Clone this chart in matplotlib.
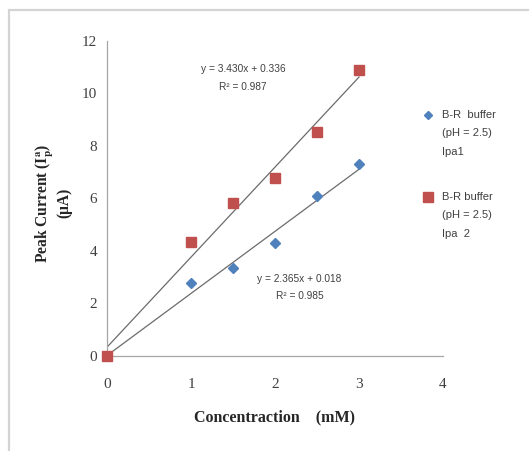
import numpy as np
import matplotlib
matplotlib.use("Agg")
import matplotlib.pyplot as plt
from matplotlib.lines import Line2D
from matplotlib.patches import Rectangle

plt.rcParams["mathtext.fontset"] = "stix"

# Concentration (mM) and peak anodic currents (uA)
conc = [0, 1, 1.5, 2, 2.5, 3]
ipa1 = [0, 2.80, 3.37, 4.31, 6.11, 7.30]
ipa2 = [0, 4.34, 5.83, 6.78, 8.54, 10.89]

# Linear fits reported for each series
fit1 = (2.365, 0.018, 0.985)
fit2 = (3.430, 0.336, 0.987)

label1 = "B-R  buffer\n(pH = 2.5)\nIpa1"
label2 = "B-R buffer\n(pH = 2.5)\nIpa  2"

blue = "#4F81BD"
red = "#C0504D"
text_gray = "#404040"

W, H = 529, 451
fig = plt.figure(figsize=(W / 100, H / 100), dpi=100)
fig.patch.set_facecolor("white")


def fx(px):
    return px / W


def fy(py):
    return (H - py) / H


# light outer frame of the chart area
fig.add_artist(Rectangle((fx(9), -0.05), 1.1, fy(10) + 0.05,
                         transform=fig.transFigure, fill=False,
                         edgecolor="#d4d4d4", linewidth=1.6))

ax = fig.add_axes([fx(107), fy(356), fx(443) - fx(107), fy(41) - fy(356)])
ax.set_xlim(0, 4)
ax.set_ylim(0, 12)
ax.set_xticks([0, 1, 2, 3, 4])
ax.set_yticks([0, 2, 4, 6, 8, 10, 12])
for s in ["top", "right"]:
    ax.spines[s].set_visible(False)
for s in ["left", "bottom"]:
    ax.spines[s].set_color("#a6a6a6")
    ax.spines[s].set_linewidth(0.9)
ax.tick_params(length=0, labelsize=11, colors=text_gray)
ax.tick_params(axis="x", pad=16)
ax.tick_params(axis="y", pad=7)
for lab in ax.get_xticklabels() + ax.get_yticklabels():
    lab.set_family("Liberation Serif")

# trend lines from the fitted coefficients
xs = np.array([0, 3])
for m, b, _ in (fit2, fit1):
    ax.plot(xs, m * xs + b, color="#6b6b6b", linewidth=0.9, zorder=2)

ax.plot(conc, ipa1, linestyle="none", marker="D", markersize=5, color=blue,
        clip_on=False, zorder=3)
ax.plot(conc, ipa2, linestyle="none", marker="s", markersize=7, color=red,
        clip_on=False, zorder=3)

# fit equations
eq_kw = dict(ha="center", va="center", fontsize=7.3, color=text_gray,
             family="Liberation Sans")
ax.text(1.62, 10.95, f"y = {fit2[0]:.3f}x + {fit2[1]:.3f}", **eq_kw)
ax.text(1.62, 10.25, f"R\u00b2 = {fit2[2]:.3f}", **eq_kw)
ax.text(2.29, 2.95, f"y = {fit1[0]:.3f}x + {fit1[1]:.3f}", **eq_kw)
ax.text(2.29, 2.27, f"R\u00b2 = {fit1[2]:.3f}", **eq_kw)

ax.set_xlabel("Concentraction    (mM)", family="Liberation Serif",
              fontweight="bold", fontsize=11.5, color="#262626", labelpad=13)

# two-line y-axis title
ylab_kw = dict(rotation=90, ha="center", va="center", family="Liberation Serif",
               fontweight="bold", fontsize=11.2, color="#262626")
fig.text(fx(45), fy(203), "Peak Current (I$_\\mathbf{p}^\\mathbf{a}$)", **ylab_kw)
fig.text(fx(64), fy(203), "(\u03bcA)", **ylab_kw)

# legend: marker beside the first line of each multi-line entry
legend_entries = [
    (label1, "D", 4.5, blue, 115),
    (label2, "s", 6.5, red, 197),
]
for text, mk, ms, col, top in legend_entries:
    fig.add_artist(Line2D([fx(428)], [fy(top)], transform=fig.transFigure,
                          linestyle="none", marker=mk, markersize=ms, color=col))
    fig.text(fx(442), fy(top - 5), text, ha="left", va="top", fontsize=8,
             family="Liberation Sans", color=text_gray, linespacing=2.05)

fig.savefig("out.png", dpi=100, facecolor="white")
